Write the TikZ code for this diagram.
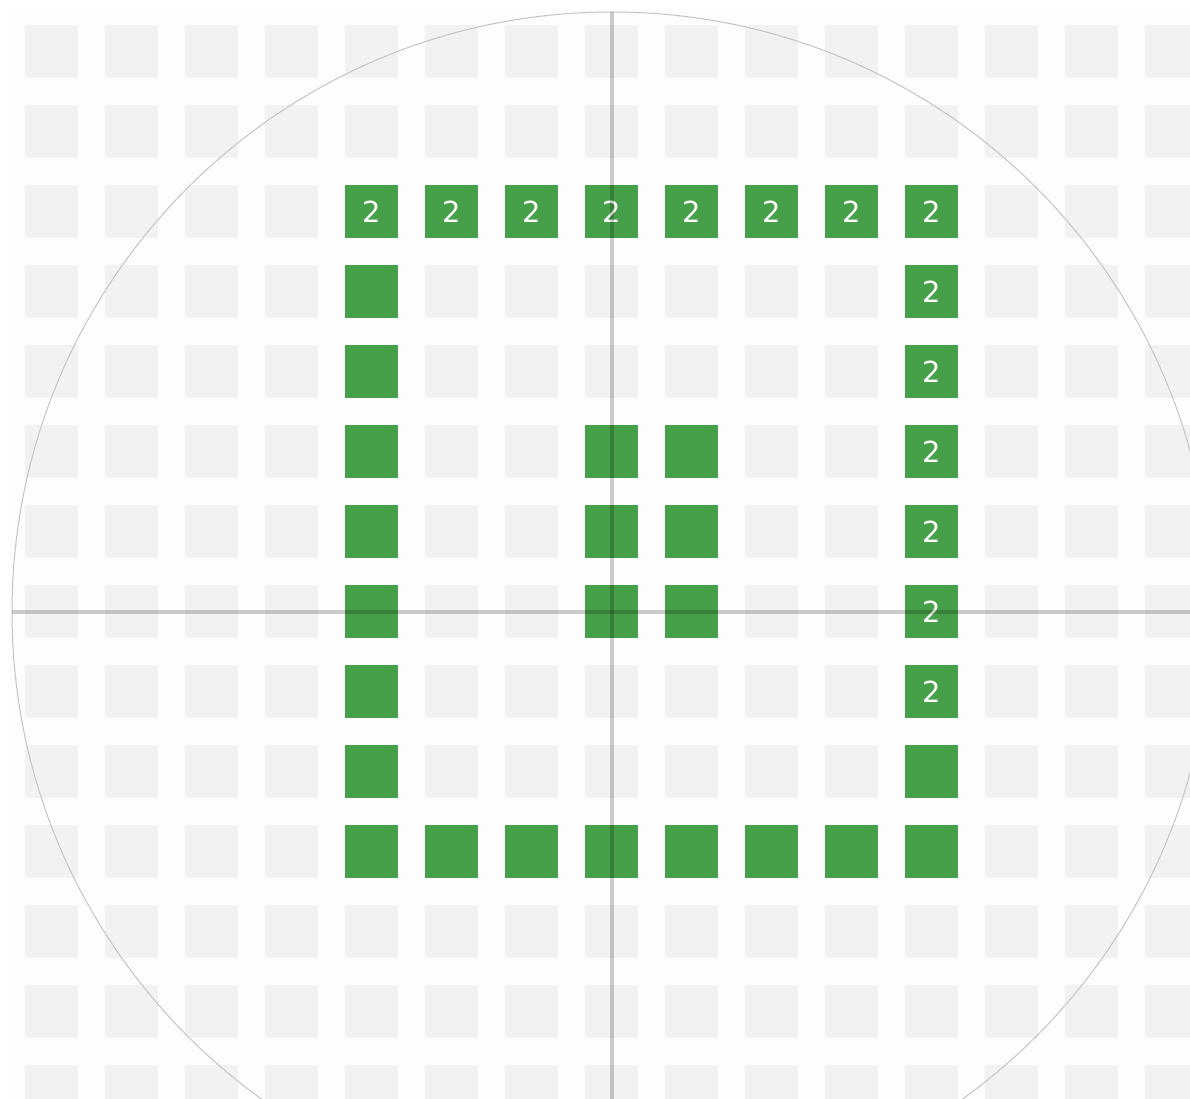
\documentclass[tikz,border=0pt]{standalone}
\usepackage{fontspec}
\setmainfont{DejaVu Sans}
\definecolor{cellgray}{HTML}{F2F2F2}
\definecolor{bggray}{HTML}{FDFDFD}
\definecolor{cellgreen}{HTML}{46A049}
\definecolor{ringgray}{HTML}{C4C4C4}
\tikzset{
  bgcell/.style={fill=cellgray, draw=none, minimum size=53pt, inner sep=0pt, outer sep=0pt, anchor=north west},
  gcell/.style={fill=cellgreen, draw=none, minimum size=53pt, inner sep=0pt, outer sep=0pt, anchor=north west, text=white, font=\fontsize{29}{29}\selectfont},
  cross/.style={line width=4pt, black, opacity=0.2},
}
\begin{document}
\begin{tikzpicture}[x=1pt,y=-1pt]
\useasboundingbox (0,0) rectangle (1190,1099);
\clip (0,0) rectangle (1190,1099);
\fill[white] (0,0) rectangle (1190,1099);
\fill[bggray] (10,10) rectangle (1190,1099);
% background grid
\foreach \i in {0,...,14}{
  \foreach \j in {0,...,13}{
    \node[bgcell] (bg-\i-\j) at ({25+80*\i},{25+80*\j}) {};
  }
}
% circle
\node[circle, draw=ringgray, line width=1pt, minimum size=1200pt, inner sep=0pt] (ring) at (612,612) {};
% green frame
\foreach \i in {4,...,11}{
  \node[gcell] (top-\i) at ({25+80*\i},185) {2};
  \node[gcell] (bot-\i) at ({25+80*\i},825) {};
}
\foreach \j in {3,...,9}{
  \node[gcell] (left-\j) at (345,{25+80*\j}) {};
}
\foreach \j in {3,...,8}{
  \node[gcell] (right-\j) at (905,{25+80*\j}) {2};
}
\node[gcell] (right-9) at (905,745) {};
% middle block
\foreach \i in {7,8}{
  \foreach \j in {5,6,7}{
    \node[gcell] (mid-\i-\j) at ({25+80*\i},{25+80*\j}) {};
  }
}
% crosshair
\coordinate (vt) at (612,12);
\coordinate (vb) at (612,1212);
\coordinate (hl) at (12,612);
\coordinate (hr) at (1212,612);
\draw[cross] (vt) -- (vb);
\draw[cross] (hl) -- (hr);
\end{tikzpicture}
\end{document}
